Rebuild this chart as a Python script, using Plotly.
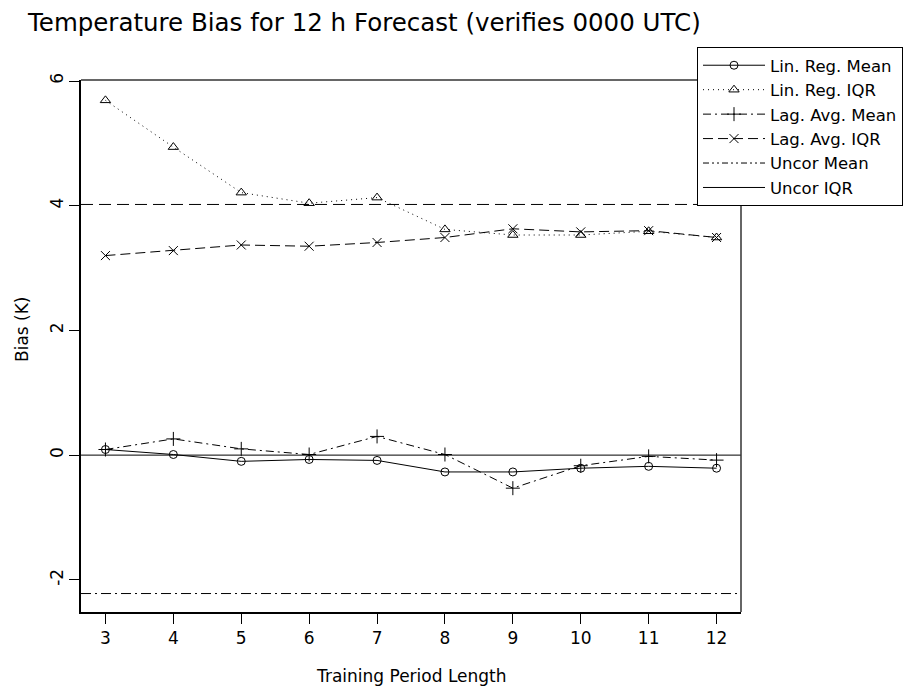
import plotly.graph_objects as go

# ---- data ----
periods = [3, 4, 5, 6, 7, 8, 9, 10, 11, 12]
lin_reg_mean = [0.09, 0.01, -0.10, -0.07, -0.085, -0.27, -0.27, -0.21, -0.18, -0.21]
lin_reg_iqr = [5.69, 4.94, 4.21, 4.04, 4.13, 3.62, 3.53, 3.53, 3.59, 3.49]
lag_avg_mean = [0.09, 0.26, 0.10, 0.01, 0.30, 0.01, -0.53, -0.17, -0.02, -0.08]
lag_avg_iqr = [3.20, 3.28, 3.37, 3.35, 3.41, 3.49, 3.63, 3.58, 3.60, 3.49]
uncor_mean = -2.22
uncor_iqr = 4.02
zero_ref = 0.0

y_tick_vals = [-2, 0, 2, 4, 6]
y_tick_text = ["-2", "0", "2", "4", "6"]
x_tick_vals = periods

FONT = "DejaVu Sans, Liberation Sans, Arial, sans-serif"
FS = 17
W, H = 908, 692
L, R, T, B = 81, 167, 80, 80

fig = go.Figure()

def series(y, name, dash, symbol, size):
    fig.add_trace(go.Scatter(
        x=periods, y=y, name=name, mode="lines+markers",
        line=dict(color="black", width=1, dash=dash),
        marker=dict(symbol=symbol, size=size, color="black",
                    line=dict(color="black", width=1)),
    ))

series(lin_reg_mean, "Lin. Reg. Mean", "solid", "circle-open", 8)
series(lin_reg_iqr, "Lin. Reg. IQR", "1px,4px", "triangle-up-open", 9)
series(lag_avg_mean, "Lag. Avg. Mean", "8px,4px,2px,4px", "cross-thin-open", 10)
series(lag_avg_iqr, "Lag. Avg. IQR", "10px,5px", "x-thin-open", 9)

# legend-only entries for the uncorrected reference lines
fig.add_trace(go.Scatter(x=[None], y=[None], name="Uncor Mean", mode="lines",
                         line=dict(color="black", width=1, dash="6px,3px,2px,3px,2px,3px")))
fig.add_trace(go.Scatter(x=[None], y=[None], name="Uncor IQR", mode="lines",
                         line=dict(color="black", width=1)))

# horizontal reference lines spanning the plot
for yv, dash in [(uncor_iqr, "12px,6px"), (uncor_mean, "10px,4px,2px,4px"), (zero_ref, "solid")]:
    fig.add_shape(type="line", xref="paper", x0=0, x1=1, yref="y", y0=yv, y1=yv,
                  line=dict(color="black", width=1, dash=dash), layer="above")

# box top/right
fig.add_shape(type="line", xref="paper", yref="paper", x0=0, x1=1, y0=1, y1=1,
              line=dict(color="#333", width=1.5))
fig.add_shape(type="line", xref="paper", yref="paper", x0=1, x1=1, y0=0, y1=1,
              line=dict(color="#333", width=1.5))

fig.update_layout(
    width=W, height=H,
    margin=dict(l=L, r=R, t=T, b=B, autoexpand=False),
    paper_bgcolor="white", plot_bgcolor="white",
    font=dict(family=FONT, size=FS, color="black"),
    showlegend=True,
    title=dict(text="Temperature Bias for 12 h Forecast (verifies 0000 UTC)",
               font=dict(family=FONT, size=24.5, color="black"),
               xref="container", x=28 / W, xanchor="left",
               yref="container", y=1 - 22 / H, yanchor="middle"),
    legend=dict(xref="container", yref="container",
                x=697 / W, xanchor="left", y=1 - 47 / H, yanchor="top",
                bordercolor="black", borderwidth=1, bgcolor="white",
                font=dict(family=FONT, size=16.5, color="black"),
                itemwidth=62, tracegroupgap=0),
    xaxis=dict(range=[2.64, 12.36], tickmode="array", tickvals=x_tick_vals,
               ticks="outside", ticklen=10, tickcolor="black", tickwidth=1,
               showline=True, linecolor="black", linewidth=2,
               showgrid=False, zeroline=False,
               tickfont=dict(family=FONT, size=FS, color="black")),
    yaxis=dict(range=[-2.516, 6.016], tickmode="array", tickvals=y_tick_vals,
               ticktext=y_tick_text, tickangle=-90, ticklabelstandoff=-1,
               ticks="outside", ticklen=10, tickcolor="black", tickwidth=1,
               showline=True, linecolor="black", linewidth=2,
               showgrid=False, zeroline=False,
               tickfont=dict(family=FONT, size=FS, color="black")),
    annotations=[
        dict(text="Training Period Length", xref="paper", x=0.5, yref="paper", y=0,
             yshift=-64, showarrow=False, yanchor="middle",
             font=dict(family=FONT, size=FS, color="black")),
        dict(text="Bias (K)", xref="paper", x=0, xshift=-59, yref="paper",
             y=(612 - 330) / 532, showarrow=False, textangle=-90, xanchor="center",
             font=dict(family=FONT, size=FS, color="black")),
    ],
)

fig.write_html("out.html")
